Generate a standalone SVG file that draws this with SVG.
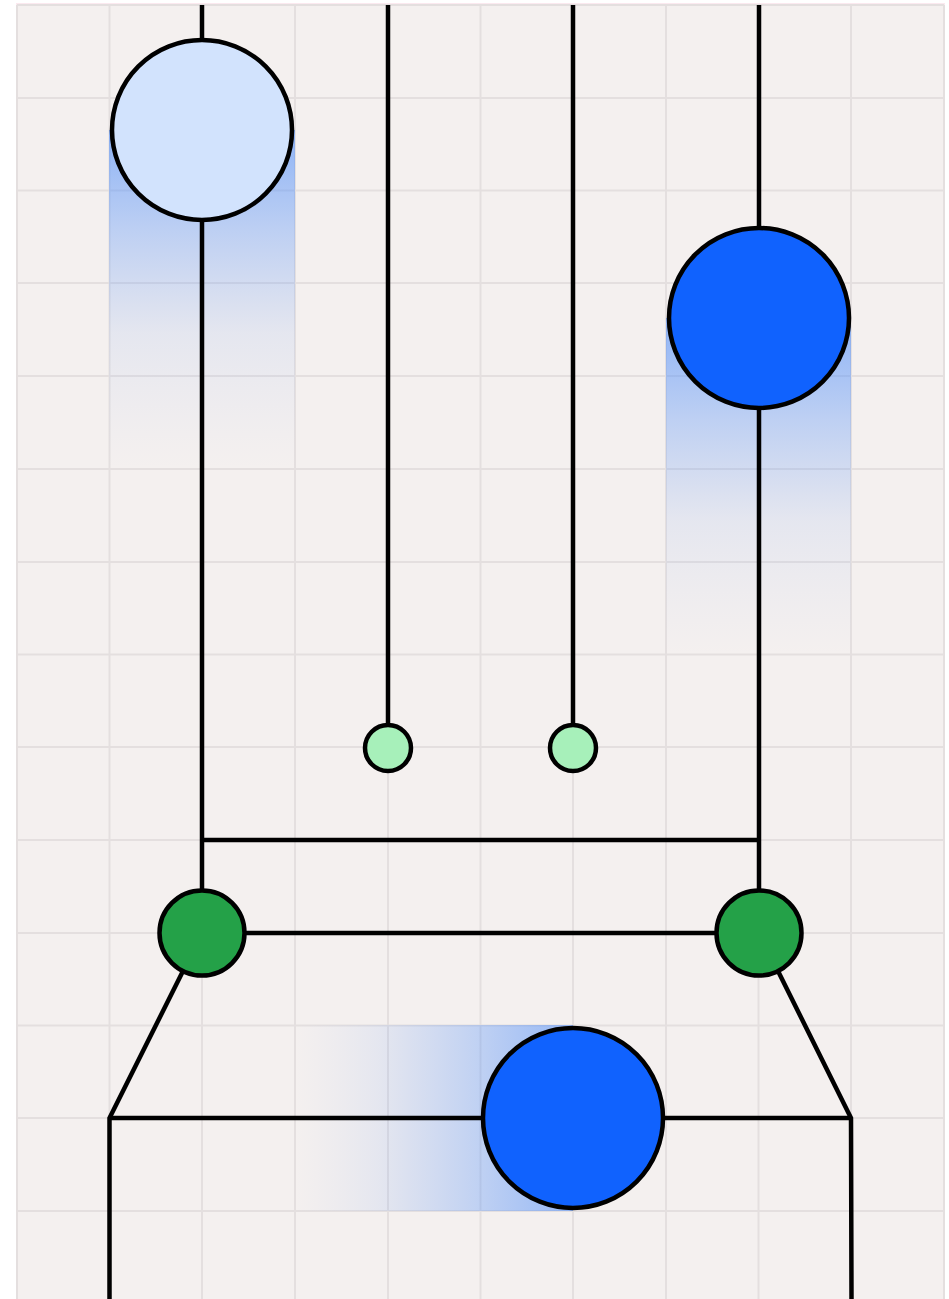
<svg xmlns="http://www.w3.org/2000/svg" width="949" height="1299" viewBox="0 0 949 1299">
<defs>
<style>
.grid line{stroke:#e4dfdf;stroke-width:2}
.edge{stroke:#000;stroke-width:4.5;fill:none}
.node{stroke:#000;stroke-width:4.5}
</style>
<linearGradient id="gv" x1="0" y1="0" x2="0" y2="1">
<stop offset="0" stop-color="#4a8bfb" stop-opacity="0.6"/>
<stop offset="0.3" stop-color="#4a8bfb" stop-opacity="0.32"/>
<stop offset="0.6" stop-color="#5a90f3" stop-opacity="0.1"/>
<stop offset="1" stop-color="#8aa8ee" stop-opacity="0"/>
</linearGradient>
<linearGradient id="gh" x1="1" y1="0" x2="0" y2="0">
<stop offset="0" stop-color="#4a8bfb" stop-opacity="0.55"/>
<stop offset="0.35" stop-color="#4a8bfb" stop-opacity="0.3"/>
<stop offset="0.7" stop-color="#5a90f3" stop-opacity="0.1"/>
<stop offset="1" stop-color="#8aa8ee" stop-opacity="0"/>
</linearGradient>
</defs>
<rect width="949" height="1299" fill="#ffffff"/>
<rect x="16" y="3" width="929" height="2" fill="#fbe9ef"/>
<rect x="16" y="5" width="929" height="1294" fill="#f4f0ef"/>
<g class="grid">
<line x1="17" y1="5" x2="17" y2="1299"/>
<line x1="109.5" y1="5" x2="109.5" y2="1299"/>
<line x1="202" y1="5" x2="202" y2="1299"/>
<line x1="295" y1="5" x2="295" y2="1299"/>
<line x1="388" y1="5" x2="388" y2="1299"/>
<line x1="480.5" y1="5" x2="480.5" y2="1299"/>
<line x1="573" y1="5" x2="573" y2="1299"/>
<line x1="666" y1="5" x2="666" y2="1299"/>
<line x1="758.5" y1="5" x2="758.5" y2="1299"/>
<line x1="851" y1="5" x2="851" y2="1299"/>
<line x1="944" y1="5" x2="944" y2="1299"/>
<line x1="17" y1="5" x2="944" y2="5"/>
<line x1="17" y1="98" x2="944" y2="98"/>
<line x1="17" y1="190.5" x2="944" y2="190.5"/>
<line x1="17" y1="283" x2="944" y2="283"/>
<line x1="17" y1="376" x2="944" y2="376"/>
<line x1="17" y1="469" x2="944" y2="469"/>
<line x1="17" y1="562" x2="944" y2="562"/>
<line x1="17" y1="654.5" x2="944" y2="654.5"/>
<line x1="17" y1="747" x2="944" y2="747"/>
<line x1="17" y1="840" x2="944" y2="840"/>
<line x1="17" y1="933" x2="944" y2="933"/>
<line x1="17" y1="1025.5" x2="944" y2="1025.5"/>
<line x1="17" y1="1118" x2="944" y2="1118"/>
<line x1="17" y1="1211" x2="944" y2="1211"/>
</g>
<g id="glows">
<rect x="109" y="130" width="186" height="339" fill="url(#gv)"/>
<rect x="666" y="318" width="185" height="337" fill="url(#gv)"/>
<rect x="295" y="1025" width="278" height="186" fill="url(#gh)"/>
</g>
<g id="connectors">
<line class="edge" x1="202" y1="5" x2="202" y2="40"/>
<line class="edge" x1="202" y1="220" x2="202" y2="891"/>
<line class="edge" x1="388" y1="5" x2="388" y2="725"/>
<line class="edge" x1="573" y1="5" x2="573" y2="725"/>
<line class="edge" x1="759" y1="5" x2="759" y2="228"/>
<line class="edge" x1="759" y1="408" x2="759" y2="891"/>
<line class="edge" x1="202" y1="840" x2="759" y2="840"/>
<line class="edge" x1="244" y1="933" x2="717" y2="933"/>
<polyline class="edge" points="183,971 109.5,1118 109.5,1299"/>
<polyline class="edge" points="778,971 851,1118 851.5,1299"/>
<line class="edge" x1="109.5" y1="1118" x2="483" y2="1118"/>
<line class="edge" x1="663" y1="1118" x2="851" y2="1118"/>
</g>
<g id="node-top-left"><circle class="node" cx="202" cy="130" r="90" fill="#d2e3fd"/></g>
<g id="node-top-right"><circle class="node" cx="759" cy="318" r="90" fill="#1062fe"/></g>
<g id="node-small-1"><circle class="node" cx="388" cy="748" r="23" fill="#a7f0ba"/></g>
<g id="node-small-2"><circle class="node" cx="573" cy="748" r="23" fill="#a7f0ba"/></g>
<g id="node-green-left"><circle class="node" cx="202" cy="933" r="42.5" fill="#24a148"/></g>
<g id="node-green-right"><circle class="node" cx="759" cy="933" r="42.5" fill="#24a148"/></g>
<g id="node-bottom"><circle class="node" cx="573" cy="1118" r="90" fill="#1062fe"/></g>
</svg>
